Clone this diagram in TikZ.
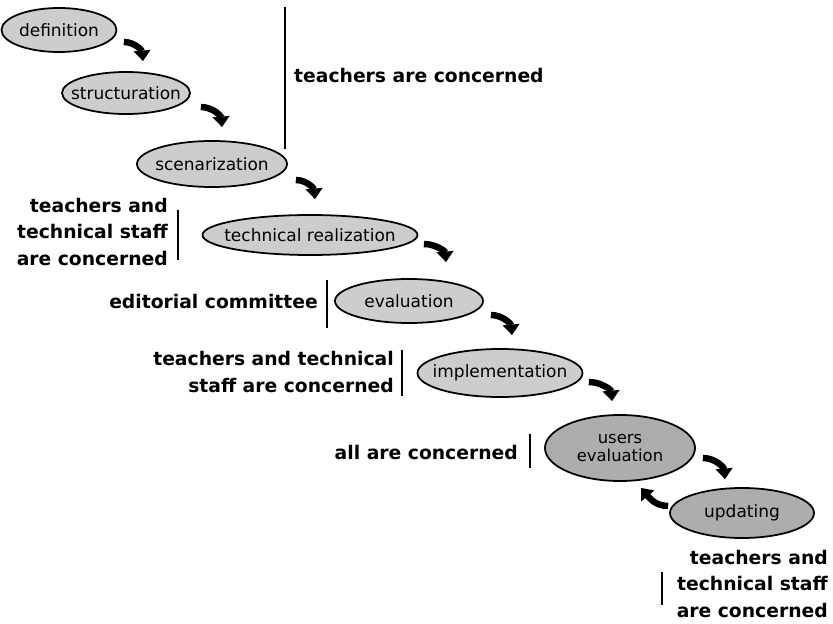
\documentclass[tikz,border=0pt]{standalone}
\usepackage{fontspec}
\setmainfont{DejaVu Sans}
\usetikzlibrary{shapes.geometric,arrows.meta,calc}
\definecolor{lightfill}{HTML}{CDCDCD}
\definecolor{darkfill}{HTML}{ADADAD}
\begin{document}
\begin{tikzpicture}[x=0.03cm,y=-0.03cm,
  phase/.style={ellipse, draw=black, line width=1.5pt, fill=lightfill, inner sep=0pt},
  phasedark/.style={phase, fill=darkfill},
  ptext/.style={font=\fontsize{14.5}{16}\selectfont, align=center, inner sep=0pt},
  flow/.style={line width=5.5pt, -{Triangle[length=9pt,width=14pt]}},
  bar/.style={line width=1.3pt},
  lab/.style={font=\bfseries\fontsize{16}{23}\selectfont, align=right, inner sep=0pt}]
\useasboundingbox (0,0) rectangle (833,624);

% phases
\node[phase, minimum width=3.45cm, minimum height=1.32cm] (def) at (59,30) {};
\node[ptext] (deft) at (def) {definition};
\node[phase, minimum width=3.84cm, minimum height=1.26cm] (str) at (126,93) {};
\node[ptext] (strt) at (str) {structuration};
\node[phase, minimum width=4.5cm, minimum height=1.38cm] (scen) at (212,164) {};
\node[ptext] (scent) at (scen) {scenarization};
\node[phase, minimum width=6.45cm, minimum height=1.2cm] (tech) at (310,235) {};
\node[ptext] (techt) at (tech) {technical realization};
\node[phase, minimum width=4.44cm, minimum height=1.32cm] (eval) at (409,301) {};
\node[ptext] (evalt) at (eval) {evaluation};
\node[phase, minimum width=4.95cm, minimum height=1.44cm] (impl) at (500,373) {};
\node[ptext] (implt) at (impl) {implementation};
\node[phasedark, minimum width=4.5cm, minimum height=1.98cm] (users) at (620,448) {};
\node[ptext, font=\fontsize{14}{16}\selectfont] (userst) at (users) {users\\evaluation};
\node[phasedark, minimum width=4.32cm, minimum height=1.5cm] (upd) at (742,513) {};
\node[ptext] (updt) at (upd) {updating};

% flow arrows
\draw[flow] ($(def.east)+(6.5,12)$) to[out=0,in=95] ($(str.north)+(17,-10)$);
\draw[flow] ($(str.east)+(10,14)$) to[out=0,in=95] ($(scen.north)+(10,-13)$);
\draw[flow] ($(scen.east)+(8,16)$) to[out=0,in=95] ($(tech.north)+(5,-15)$);
\draw[flow] ($(tech.east)+(5.5,9)$) to[out=0,in=95] ($(eval.north)+(37,-16)$);
\draw[flow] ($(eval.east)+(7,14)$) to[out=0,in=95] ($(impl.north)+(12,-13)$);
\draw[flow] ($(impl.east)+(5.5,9)$) to[out=0,in=95] ($(users.north)+(-8,-13)$);
\draw[flow] ($(users.east)+(7,10)$) to[out=0,in=95] ($(upd.north)+(-17,-8)$);
\draw[flow] ($(upd.west)+(-1,-7)$) to[out=180,in=-50] ($(users.south)+(21,6)$);

% bars
\draw[bar] (285,7) -- (285,149);
\draw[bar] (178,210) -- (178,260);
\draw[bar] (327,280) -- (327,328);
\draw[bar] (402,350) -- (402,396);
\draw[bar] (530,434) -- (530,468);
\draw[bar] (662,572) -- (662,605);

% labels
\node[lab, anchor=west, align=left] (l1) at (294,76) {teachers are concerned};
\node[lab, anchor=east] (l2) at (168,232) {teachers and\\technical staff\\are concerned};
\node[lab, anchor=east] (l3) at (318,302) {editorial committee};
\node[lab, anchor=east] (l4) at (394,372) {teachers and technical\\staff are concerned};
\node[lab, anchor=east] (l5) at (518,453) {all are concerned};
\node[lab, anchor=east] (l6) at (828,584) {teachers and\\technical staff\\are concerned};
\end{tikzpicture}
\end{document}
